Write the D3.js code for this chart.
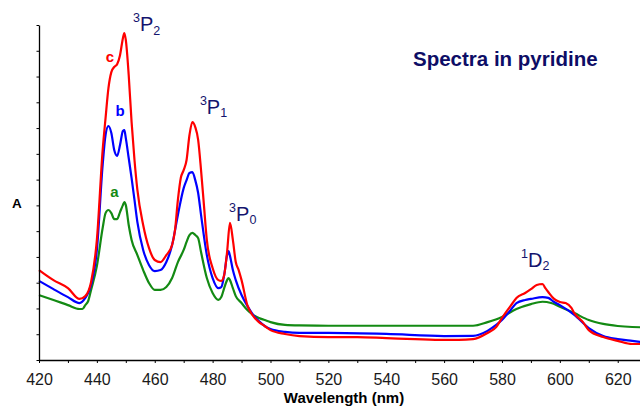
<!DOCTYPE html>
<html>
<head>
<meta charset="utf-8">
<script src="https://cdn.jsdelivr.net/npm/d3@7"></script>
<style>
  html, body { margin: 0; padding: 0; background: #fff; }
  svg { display: block; font-family: "Liberation Sans", Arial, Helvetica, sans-serif; }
</style>
</head>
<body>
<svg id="chart" width="640" height="408"></svg>
<script>
// Absorption spectra in pyridine: wavelength (nm) vs absorbance (arbitrary units)
const wavelengthsC = [420,425,430,434,436,438,440,442,443,444,445,446,447,448,449,449.5,450,451,452,453,454,456,458,460,462,464,466,467,468,469,470,471,472,473,474,475,476,477,478,480,482,483,484,485,486,487,488,489,490,492,494,496,498,500,505,510,520,530,540,550,560,565,570,575,578,580,583,585,588,590,592,594,595,596,598,600,602,604,605,608,610,615,620,625,628];
const absorbanceC  = [0.349,0.310,0.279,0.237,0.248,0.303,0.466,0.815,0.939,1.055,1.117,1.137,1.148,1.183,1.249,1.269,1.242,1.106,0.923,0.776,0.660,0.524,0.435,0.388,0.380,0.407,0.446,0.504,0.621,0.706,0.737,0.776,0.873,0.923,0.904,0.854,0.737,0.601,0.466,0.357,0.310,0.307,0.330,0.419,0.532,0.466,0.380,0.349,0.310,0.213,0.171,0.147,0.132,0.116,0.101,0.093,0.089,0.089,0.085,0.081,0.078,0.078,0.081,0.105,0.128,0.163,0.210,0.241,0.260,0.275,0.291,0.295,0.279,0.264,0.237,0.225,0.221,0.202,0.182,0.147,0.116,0.089,0.074,0.062,0.062];

const wavelengthsB = [420,425,430,434,436,438,440,442,443,444,445,446,447,448,449,449.5,450,451,452,453,454,456,458,460,462,464,466,468,470,471,472,473,474,475,476,478,480,482,483,484,485,485.5,486,487,488,490,492,494,496,498,500,505,510,520,540,560,570,575,578,580,583,585,588,590,594,596,598,600,605,610,615,620,625,628];
const absorbanceB  = [0.307,0.275,0.244,0.221,0.241,0.291,0.427,0.757,0.873,0.908,0.881,0.815,0.792,0.834,0.889,0.892,0.861,0.784,0.706,0.621,0.535,0.427,0.369,0.345,0.349,0.380,0.446,0.563,0.667,0.698,0.726,0.729,0.698,0.648,0.563,0.407,0.318,0.279,0.283,0.330,0.407,0.423,0.404,0.349,0.310,0.252,0.210,0.175,0.151,0.132,0.120,0.109,0.105,0.105,0.101,0.093,0.094,0.113,0.136,0.155,0.194,0.221,0.233,0.237,0.244,0.241,0.225,0.213,0.175,0.124,0.093,0.081,0.074,0.070];

const wavelengthsA = [420,425,430,434,435,436,437,438,440,442,443,444,445,446,447,448,449,449.5,450,451,452,454,456,458,460,462,464,466,468,470,471,472,473,474,475,476,478,480,482,483,484,485,485.5,486,487,488,490,492,494,496,498,500,505,510,520,540,560,570,575,580,585,590,594,597,600,605,610,615,620,625,628];
const absorbanceA  = [0.252,0.233,0.213,0.198,0.198,0.213,0.229,0.272,0.365,0.512,0.570,0.582,0.570,0.547,0.547,0.574,0.601,0.613,0.601,0.524,0.466,0.407,0.349,0.299,0.272,0.272,0.283,0.318,0.380,0.427,0.458,0.485,0.493,0.485,0.473,0.419,0.318,0.260,0.233,0.244,0.279,0.310,0.318,0.310,0.279,0.248,0.221,0.194,0.175,0.163,0.155,0.147,0.136,0.134,0.133,0.133,0.133,0.133,0.147,0.167,0.198,0.217,0.226,0.221,0.207,0.182,0.155,0.140,0.132,0.128,0.127];

const seriesNames  = ["a", "b", "c"];
const seriesColors = ["#138a13", "#0000ff", "#ff0000"];

const xTickValues = d3.range(420, 621, 10);
const xTickLabels = d3.range(420, 621, 20);
const yTickValues = d3.range(0, 1.301, 0.1);

// Term symbols of the f-f transitions: superscript multiplicity, term letter, subscript J,
// anchored in data coordinates (wavelength, absorbance)
const levelLabels = [
  { mult: "3", term: "P", j: "2", nm: 452.5, a: 1.275 },
  { mult: "3", term: "P", j: "1", nm: 475.6, a: 0.955 },
  { mult: "3", term: "P", j: "0", nm: 485.7, a: 0.541 },
  { mult: "1", term: "D", j: "2", nm: 586.6, a: 0.362 }
];
// Curve tags anchored in data coordinates
const curveTags = [
  { name: "c", nm: 444.5, a: 1.156 },
  { name: "b", nm: 448.0, a: 0.947 },
  { name: "a", nm: 446.1, a: 0.634 }
];

const series = [
  { name: "a", x: wavelengthsA, y: absorbanceA },
  { name: "b", x: wavelengthsB, y: absorbanceB },
  { name: "c", x: wavelengthsC, y: absorbanceC }
];

const svg = d3.select("#chart");
const margin = { top: 25, right: 0, bottom: 48, left: 39 };
const W = 640, H = 408;

const x = d3.scaleLinear().domain([420, 627.7]).range([margin.left, W - margin.right]);
const y = d3.scaleLinear().domain([0, 1.3]).range([H - margin.bottom, margin.top]);
const color = d3.scaleOrdinal().domain(seriesNames).range(seriesColors);

// Curves
const line = d3.line()
  .x(d => x(d[0]))
  .y(d => y(d[1]))
  .curve(d3.curveMonotoneX);

svg.append("g")
  .selectAll("path")
  .data(series)
  .join("path")
  .attr("fill", "none")
  .attr("stroke", d => color(d.name))
  .attr("stroke-width", 2.2)
  .attr("stroke-linejoin", "round")
  .attr("d", d => line(d.x.map((v, i) => [v, d.y[i]])));

// Axes
const xAxis = d3.axisBottom(x)
  .tickValues(xTickValues)
  .tickSize(3)
  .tickSizeOuter(0)
  .tickPadding(10.5)
  .tickFormat(v => xTickLabels.includes(v) ? String(v) : "");

const gx = svg.append("g")
  .attr("transform", `translate(0,${H - margin.bottom})`)
  .call(xAxis);
gx.select(".domain").attr("stroke", "#000").attr("stroke-width", 1.3);
gx.selectAll(".tick line").attr("stroke", "#000");
gx.selectAll(".tick text")
  .attr("fill", "#1a1a1a")
  .style("font-size", "16px");

const yAxis = d3.axisLeft(y)
  .tickValues(yTickValues)
  .tickSize(2.5)
  .tickSizeOuter(0)
  .tickFormat("");

const gy = svg.append("g")
  .attr("transform", `translate(${margin.left},0)`)
  .call(yAxis);
gy.select(".domain").attr("stroke", "#000").attr("stroke-width", 1.3);
gy.selectAll(".tick line").attr("stroke", "#000");

// Axis titles
svg.append("text")
  .attr("x", 344)
  .attr("y", 403)
  .attr("text-anchor", "middle")
  .attr("font-weight", "bold")
  .attr("font-size", 15)
  .attr("fill", "#000")
  .text("Wavelength (nm)");

svg.append("text")
  .attr("x", 12)
  .attr("y", 208)
  .attr("font-weight", "bold")
  .attr("font-size", 13.5)
  .attr("fill", "#000")
  .text("A");

// Title
svg.append("text")
  .attr("x", 413)
  .attr("y", 66)
  .attr("font-weight", "bold")
  .attr("font-size", 20.5)
  .attr("fill", "#0d0d66")
  .text("Spectra in pyridine");

// Term symbol labels
const lvl = svg.append("g").attr("fill", "#14146e");
levelLabels.forEach(d => {
  const t = lvl.append("text")
    .attr("x", x(d.nm))
    .attr("y", y(d.a) - 9);
  t.append("tspan").attr("font-size", 12.5).text(d.mult);
  t.append("tspan").attr("font-size", 20).attr("dy", 9).text(d.term);
  t.append("tspan").attr("font-size", 12.5).attr("dy", 3.5).text(d.j);
});

// Curve tags
svg.append("g")
  .selectAll("text")
  .data(curveTags)
  .join("text")
  .attr("x", d => x(d.nm))
  .attr("y", d => y(d.a))
  .attr("text-anchor", "middle")
  .attr("font-weight", "bold")
  .attr("font-size", 15)
  .attr("fill", d => color(d.name))
  .text(d => d.name);
</script>
</body>
</html>
